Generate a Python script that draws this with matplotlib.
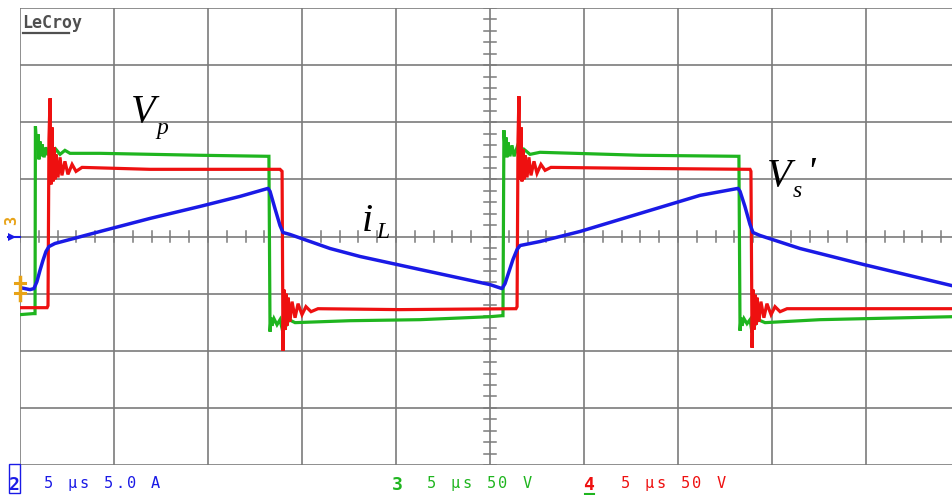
import matplotlib
matplotlib.use("Agg")
import matplotlib.pyplot as plt
from matplotlib.patches import Polygon, Rectangle
from matplotlib.lines import Line2D

W, H, DPI = 952, 495, 100

# Scope settings
T_DIV = 5.0        # µs per division
CH2_DIV = 5.0      # A per division (inductor current)
CH3_DIV = 50.0     # V per division (primary voltage)
CH4_DIV = 50.0     # V per division (reflected secondary voltage)

# Channel 3: primary voltage Vp  (time in µs, volts)
ch3_t = [0.00, 0.69, 0.80, 0.82, 0.90, 0.96, 1.01, 1.06, 1.12, 1.17, 1.28, 1.38,
         1.49, 1.60, 1.76, 1.91, 2.13, 2.39, 2.66, 4.26, 9.57, 13.19, 13.24,
         13.30, 13.35, 13.40, 13.51, 13.67, 13.83, 13.99, 14.04, 14.15, 14.31,
         14.63, 17.55, 21.28, 25.00, 25.64, 25.69,
         25.74, 25.80, 25.85, 25.90, 25.96, 26.06, 26.17, 26.28, 26.44, 26.60,
         26.81, 27.13, 27.66, 32.98, 38.19, 38.24,
         38.30, 38.35, 38.40, 38.51, 38.67, 38.83, 38.94, 38.99, 39.10, 39.26,
         39.63, 42.55, 49.57, 50.00]
ch3_v = [-68.4, -67.5, -67.5, 96.5, 76.3, 89.5, 67.5, 83.3, 70.2, 80.7, 69.3, 78.1,
         71.1, 78.9, 71.1, 76.3, 71.9, 75.4, 72.8, 72.8, 71.1, 70.2, 70.2,
         -83.3, -71.1, -78.1, -71.9, -77.2, -72.8, -84.2, -69.3, -78.1, -72.8,
         -75.4, -73.7, -72.8, -70.2, -69.3, -69.3,
         93.0, 76.3, 86.8, 69.3, 82.4, 70.2, 79.8, 70.2, 78.1, 71.1,
         76.3, 71.9, 73.7, 71.1, 70.2, 70.2,
         -82.5, -71.1, -78.1, -71.9, -76.3, -72.8, -84.2, -69.3, -77.2, -72.8,
         -75.4, -72.8, -70.2, -70.2]

# Channel 4: reflected secondary voltage Vs'  (time in µs, volts)
ch4_t = [0.00, 1.44, 1.49, 1.54, 1.60, 1.65, 1.70, 1.76, 1.81, 1.86, 1.91, 2.02,
         2.13, 2.23, 2.39, 2.55, 2.77, 2.98, 3.30, 6.91, 13.83, 13.94,
         13.99, 14.04, 14.10, 14.15, 14.20, 14.26, 14.36, 14.47, 14.63, 14.79,
         15.00, 15.21, 15.48, 15.85, 20.21, 26.38,
         26.44, 26.49, 26.54, 26.60, 26.65, 26.70, 26.76, 26.81, 26.86, 26.97,
         27.07, 27.18, 27.34, 27.50, 27.71, 27.93, 28.24, 32.98, 38.83, 38.88,
         38.94, 38.99, 39.04, 39.10, 39.15, 39.20, 39.31, 39.41, 39.57, 39.73,
         39.95, 40.16, 40.43, 40.80, 50.00]
ch4_v = [-62.3, -62.3, -60.5, 85.1, 121.0, 45.6, 95.6, 48.2, 78.1, 50.0, 71.9, 51.7,
         69.3, 53.5, 65.8, 54.4, 63.1, 57.0, 60.5, 58.8, 58.8, 57.0,
         -100.0, -46.5, -81.6, -50.0, -78.1, -53.5, -74.6, -57.0, -71.1, -58.8,
         -68.4, -61.4, -65.8, -63.2, -64.0, -63.2,
         -61.4, 85.1, 122.8, 50.0, 95.6, 48.2, 76.3, 50.0, 71.1, 51.7,
         69.3, 53.5, 65.8, 55.3, 63.1, 57.9, 60.5, 59.6, 58.8, 57.0,
         -97.4, -46.5, -81.6, -50.9, -77.2, -53.5, -74.6, -57.0, -71.1, -58.8,
         -68.4, -61.4, -65.8, -63.2, -63.2]

# Channel 2: inductor current iL  (time in µs, amps)
ch2_t = [0.00, 0.53, 0.74, 0.90, 1.06, 1.22, 1.38, 1.54, 1.86, 2.66, 4.26, 6.91,
         9.57, 11.70, 13.19, 13.30, 13.56, 13.83, 13.99, 14.36, 16.49, 18.09,
         21.28, 25.00, 25.64, 25.80, 26.01, 26.22, 26.44, 26.60, 27.66, 29.79,
         32.98, 36.17, 38.19, 38.30, 38.56, 38.83, 38.99, 39.36, 41.49, 44.89,
         49.57, 50.00]
ch2_i = [-4.47, -4.65, -4.56, -3.95, -2.98, -2.10, -1.32, -0.88, -0.61, -0.26, 0.44, 1.58,
         2.63, 3.51, 4.21, 3.95, 2.46, 0.96, 0.35, 0.18, -1.05, -1.75,
         -2.89, -4.21, -4.56, -4.12, -3.07, -2.02, -1.14, -0.79, -0.44, 0.44,
         2.02, 3.60, 4.21, 3.95, 2.63, 1.05, 0.35, 0.09, -1.05, -2.46,
         -4.30, -4.39]

GREEN = "#1fb51f"
RED = "#ee1010"
BLUE = "#1a1ae6"
GRID = "#7b7b7b"
ORANGE = "#e8a317"

fig = plt.figure(figsize=(W / DPI, H / DPI), dpi=DPI)
fig.patch.set_facecolor("white")


def fx(x):
    return x / W


def fy(y):
    return 1 - y / H


# Screen: 10 x 8 divisions, the right edge runs just past the picture
ax = fig.add_axes([fx(20), fy(465), 940 / W, 457 / H])
ax.set_xlim(0, 10 * T_DIV)
ax.set_ylim(-4, 4)
ax.axis("off")

for i in range(11):
    ax.axvline(i * T_DIV, color=GRID, lw=1.2, zorder=1)
for j in range(-4, 5):
    ax.axhline(j, color=GRID, lw=1.2, zorder=1)

# Minor ticks along the centre cross
for k in range(51):
    ax.plot([k * T_DIV / 5] * 2, [-0.09, 0.09], color=GRID, lw=1.1, zorder=1)
for k in range(-20, 21):
    ax.plot([5 * T_DIV - 0.33, 5 * T_DIV + 0.33], [k * 0.2] * 2, color=GRID, lw=1.1, zorder=1)

# Traces, in screen divisions
ax.plot(ch3_t, [v / CH3_DIV for v in ch3_v], color=GREEN, lw=2.3, zorder=3,
        solid_joinstyle="miter")
ax.plot(ch4_t, [v / CH4_DIV for v in ch4_v], color=RED, lw=2.3, zorder=4,
        solid_joinstyle="miter")
ax.plot(ch2_t, [i / CH2_DIV for i in ch2_i], color=BLUE, lw=2.5, zorder=5)

# Trace labels
serif = "Liberation Serif"
fig.text(fx(131), fy(122), "V", family=serif, style="italic", fontsize=29, color="black")
fig.text(fx(156), fy(134), "p", family=serif, style="italic", fontsize=17, color="black")
fig.text(fx(362), fy(231), "i", family=serif, style="italic", fontsize=29, color="black")
fig.text(fx(376), fy(238), "L", family=serif, style="italic", fontsize=17, color="black")
fig.text(fx(767), fy(186), "V", family=serif, style="italic", fontsize=29, color="black")
fig.text(fx(793), fy(197), "s", family=serif, style="italic", fontsize=17, color="black")
fig.text(fx(806), fy(184), "'", family=serif, style="italic", fontsize=29, color="black")

# Logo
fig.text(fx(22), fy(28), "LeCroy", family="DejaVu Sans Mono", weight="bold",
         fontsize=12, color="#505050")
fig.add_artist(Line2D([fx(23), fx(69)], [fy(32.5)] * 2, color="#505050", lw=1.6))

# Ground / trigger markers on the left edge
fig.add_artist(Polygon([[fx(8), fy(233)], [fx(8), fy(241)], [fx(16), fy(237)]],
                       closed=True, color=BLUE, lw=0))
fig.add_artist(Line2D([fx(8), fx(20)], [fy(237)] * 2, color=BLUE, lw=1.5))
fig.text(fx(19), fy(220), "3", family="DejaVu Sans Mono", weight="bold", fontsize=11,
         color=ORANGE, rotation=90, ha="right", va="center")
fig.add_artist(Line2D([fx(20), fx(20)], [fy(277), fy(300)], color=ORANGE, lw=2.5))
fig.add_artist(Line2D([fx(15), fx(25)], [fy(283)] * 2, color=ORANGE, lw=2.2))
fig.add_artist(Line2D([fx(15), fx(25)], [fy(293)] * 2, color=ORANGE, lw=2.2))

# Channel readouts at the bottom
PITCH = 11.9


def readout(x0, s, color):
    for n, ch in enumerate(s):
        if ch != " ":
            fig.text(fx(x0 + n * PITCH), fy(488), ch, family="DejaVu Sans Mono",
                     fontsize=11, color=color)


fig.text(fx(9), fy(490), "2", family="DejaVu Sans Mono", weight="bold", fontsize=13,
         color=BLUE)
fig.add_artist(Rectangle((fx(8.5), fy(493)), 11 / W, 29 / H, fill=False,
                         edgecolor=BLUE, lw=1.0))
readout(44, "5 µs 5.0 A", BLUE)
fig.text(fx(392), fy(490), "3", family="DejaVu Sans Mono", weight="bold", fontsize=13,
         color=GREEN)
readout(427, "5 µs 50 V", GREEN)
fig.text(fx(583), fy(490), "4", family="DejaVu Sans Mono", weight="bold", fontsize=13,
         color=RED)
fig.add_artist(Line2D([fx(585), fx(594)], [fy(494)] * 2, color=GREEN, lw=1.5))
readout(621, "5 µs 50 V", RED)

fig.savefig("out.png", dpi=DPI, facecolor="white")
